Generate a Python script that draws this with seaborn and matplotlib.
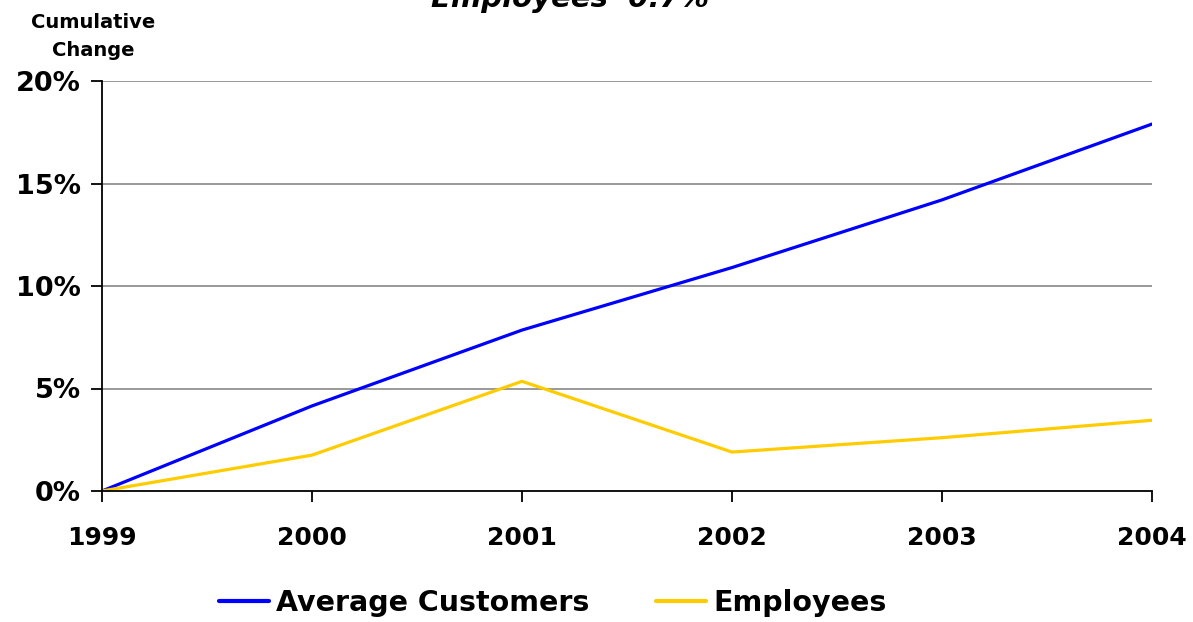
import matplotlib
matplotlib.use("Agg")
import matplotlib.pyplot as plt
from matplotlib.ticker import FuncFormatter
import seaborn as sns
import pandas as pd

years = [1999, 2000, 2001, 2002, 2003, 2004]
avg_customers = [0.0, 4.15, 7.85, 10.9, 14.2, 17.9]
employees = [0.0, 1.75, 5.35, 1.9, 2.6, 3.45]
series_names = ["Average Customers", "Employees"]
series_colors = ["#0000FF", "#FFCC00"]
y_ticks = [0, 5, 10, 15, 20]

df = pd.DataFrame({
    "year": years * 2,
    "change": avg_customers + employees,
    "series": [series_names[0]] * len(years) + [series_names[1]] * len(years),
})

sns.set_theme(style="white")
plt.rcParams["font.family"] = ["DejaVu Sans"]
plt.rcParams["text.color"] = "black"

fig = plt.figure(figsize=(11.93, 6.22), dpi=100)
ax = fig.add_axes([102 / 1193, 1 - 491 / 622, 1050 / 1193, 410 / 622])

sns.lineplot(data=df, x="year", y="change", hue="series",
             palette=dict(zip(series_names, series_colors)),
             linewidth=2.3, ax=ax, legend=False)

ax.set_xlim(years[0], years[-1])
ax.set_ylim(0, 20)
ax.set_xticks(years)
ax.set_yticks(y_ticks)
ax.yaxis.set_major_formatter(FuncFormatter(lambda v, p: f"{v:.0f}%"))
ax.set_xlabel("")
ax.set_ylabel("")

for y in y_ticks[1:]:
    ax.axhline(y, color="#888888", linewidth=1.2, zorder=0)

for side in ["top", "right"]:
    ax.spines[side].set_visible(False)
for side in ["left", "bottom"]:
    ax.spines[side].set_color("black")
    ax.spines[side].set_linewidth(1.3)

ax.tick_params(axis="both", which="both", direction="out", length=8, width=1.3,
               color="black", labelcolor="black")
ax.tick_params(axis="x", bottom=True, pad=17, labelsize=18)
ax.tick_params(axis="y", left=True, pad=7, labelsize=19.5)
for lbl in ax.get_xticklabels() + ax.get_yticklabels():
    lbl.set_fontweight("bold")

fig.text(93 / 1193, 1 - 22 / 622, "Cumulative", ha="center", va="center",
         fontsize=14, fontweight="bold")
fig.text(93 / 1193, 1 - 50 / 622, "Change", ha="center", va="center",
         fontsize=14, fontweight="bold")

fig.text(570 / 1193, 1 + 1 / 622, "Employees  0.7%", ha="center", va="center",
         fontsize=21, fontweight="bold", fontstyle="italic")

handles = [plt.Line2D([], [], color=c, linewidth=3) for c in series_colors]
fig.legend(handles, series_names, loc="center", bbox_to_anchor=(553 / 1193, 1 - 603 / 622),
           ncol=2, frameon=False, handlelength=1.75, handletextpad=0.25,
           columnspacing=2.35, borderaxespad=0, borderpad=0,
           prop={"weight": "bold", "size": 20.5})

fig.savefig("out.png", dpi=100)
